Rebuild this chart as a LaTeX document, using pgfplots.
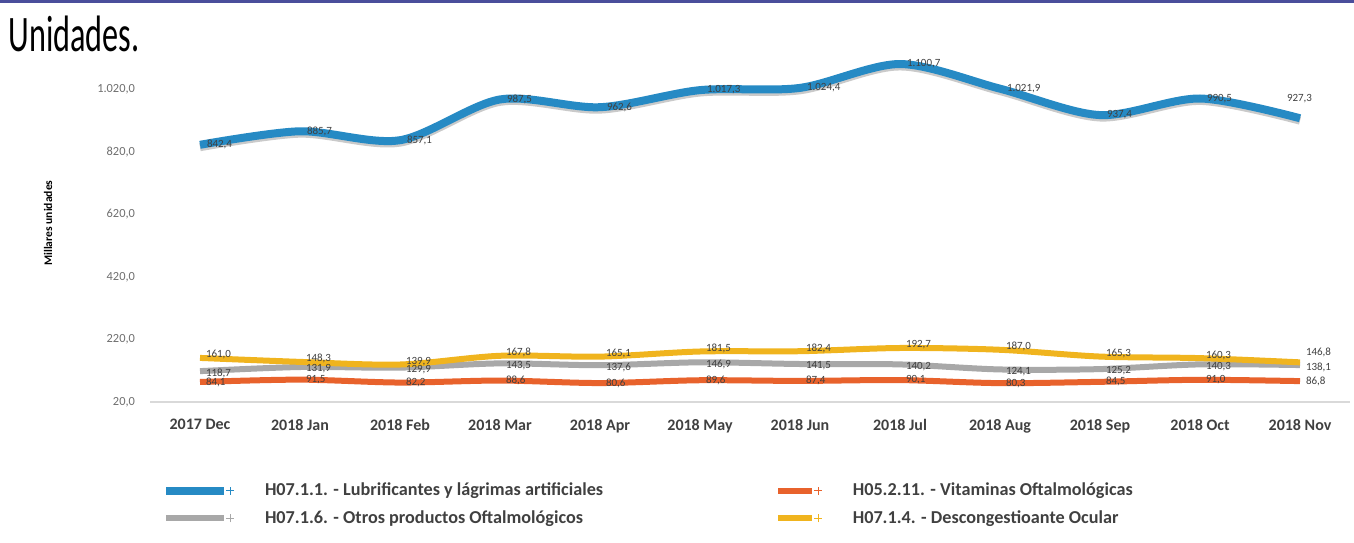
\documentclass[border=0pt]{standalone}
\usepackage{fontspec}
\setmainfont{Carlito}
\newfontfamily\titlefont[FakeStretch=0.63]{Carlito}
\usepackage{pgfplots}
\usepackage{pgfplotstable}
\pgfplotsset{compat=1.18}

\definecolor{lubri}{RGB}{38,138,196}
\definecolor{vitam}{RGB}{232,98,44}
\definecolor{otros}{RGB}{168,168,168}
\definecolor{desco}{RGB}{240,180,30}
\definecolor{txt}{RGB}{64,64,64}
\definecolor{tick}{RGB}{110,110,110}
\definecolor{frame}{RGB}{74,78,155}

\pgfplotsset{
  long legend/.style={legend image code/.code={
    \draw[##1, line cap=butt] (0pt,0pt) -- (29pt,0pt);
    \draw[##1, line width=0.6pt] (30pt,0pt) -- (34pt,0pt) (32pt,-2pt) -- (32pt,2pt);}},
  short legend/.style={legend image code/.code={
    \draw[##1, line cap=butt] (0pt,0pt) -- (17pt,0pt);
    \draw[##1, line width=0.6pt] (18pt,0pt) -- (22pt,0pt) (20pt,-2pt) -- (20pt,2pt);}},
}

% x: 0 = 2017 Dec ... 11 = 2018 Nov; bx/by/dy nudge the value labels (pt)
\pgfplotstableread{
x  lubri   vitam  otros  desco  bx   by  dy
0  842.4   84.1   118.7  161.0  0    0   1.5
1  885.7   91.5   131.9  148.3  0    0   1.5
2  857.1   82.2   129.9  139.9  0    0   1.5
3  987.5   88.6   143.5  167.8  0    0   1.5
4  962.6   80.6   137.6  165.1  0    0   1.5
5  1017.3  89.6   146.9  181.5  0    0   1.5
6  1024.4  87.4   141.5  182.4  0    0   1.5
7  1100.7  90.1   140.2  192.7  0    0   1.5
8  1021.9  80.3   124.1  187.0  0    0   1.5
9  937.4   84.5   125.2  165.3  0    0   1.5
10 990.5   91.0   140.3  160.3  0    0   1.5
11 927.3   86.8   138.1  146.8  -10  10  5
}\datos

\begin{document}
\begin{tikzpicture}
\path[use as bounding box] (0,0) rectangle (677pt,271pt);
\fill[frame] (0,269.3pt) rectangle (677pt,271pt);
\node[anchor=north west, inner sep=0pt] at (4pt,263pt)
  {\titlefont\fontsize{25.6}{28}\selectfont Unidades.};

\begin{axis}[
  at={(75pt,70pt)}, anchor=south west,
  scale only axis,
  width=600pt, height=172pt,
  xmin=-0.5, xmax=11.5,
  ymin=20, ymax=1120,
  xtick={0,...,11},
  xticklabels={2017 Dec,2018 Jan,2018 Feb,2018 Mar,2018 Apr,2018 May,2018 Jun,2018 Jul,2018 Aug,2018 Sep,2018 Oct,2018 Nov},
  ytick={20,220,420,620,820,1020},
  axis x line*=bottom,
  axis y line*=left,
  x axis line style={draw=black!15, line width=0.6pt},
  y axis line style={draw=none},
  major tick length=0pt,
  xticklabel style={font=\bfseries\fontsize{8}{9}\selectfont, text=txt, yshift=-5pt},
  yticklabel style={font=\fontsize{6.2}{7}\selectfont, text=tick, xshift=-4pt},
  /pgf/number format/use comma,
  /pgf/number format/1000 sep={.},
  /pgf/number format/fixed,
  /pgf/number format/fixed zerofill,
  /pgf/number format/precision=1,
  /pgf/number format/assume math mode=true,
  ylabel={Millares unidades},
  every axis y label/.style={at={(axis description cs:-0.085,0.52)}, rotate=90, anchor=center,
    font=\bfseries\fontsize{5.8}{7}\selectfont, text=black},
  clip=false,
  nodes near coords,
  every node near coord/.style={anchor=west, xshift=0.5pt, font=\fontsize{5.5}{6}\selectfont, text=txt, inner sep=1pt},
  legend columns=2,
  legend cell align=left,
  legend style={at={(axis description cs:0.005,-0.21)}, anchor=north west, draw=none, fill=none,
    font=\bfseries\fontsize{9.1}{10}\selectfont, text=txt,
    /tikz/every odd column/.append style={column sep=13pt},
    /tikz/every even column/.append style={column sep=84pt},
    row sep=2pt},
  long legend,
]
\addplot[draw=black!35, line width=4pt, smooth, nodes near coords={}, yshift=-1.2pt, opacity=0.6, forget plot] table[x=x, y=lubri] {\datos};
\addplot[draw=lubri, line width=4pt, smooth,
  visualization depends on={\thisrow{bx} \as \bx},
  visualization depends on={\thisrow{by} \as \by},
  every node near coord/.append style={xshift=\bx pt, yshift=\by pt}] table[x=x, y=lubri] {\datos};
\addlegendentry{H07.1.1. - Lubrificantes y lágrimas artificiales}
\addplot[draw=vitam, line width=3pt, smooth, short legend] table[x=x, y=vitam] {\datos};
\addlegendentry{H05.2.11. - Vitaminas Oftalmológicas}
\addplot[draw=otros, line width=3pt, smooth, every node near coord/.append style={yshift=-1pt}] table[x=x, y=otros] {\datos};
\addlegendentry{H07.1.6. - Otros productos Oftalmológicos}
\addplot[draw=desco, line width=3pt, smooth, short legend,
  visualization depends on={\thisrow{dy} \as \dy},
  every node near coord/.append style={yshift=\dy pt}] table[x=x, y=desco] {\datos};
\addlegendentry{H07.1.4. - Descongestioante Ocular}
\end{axis}
\end{tikzpicture}
\end{document}
